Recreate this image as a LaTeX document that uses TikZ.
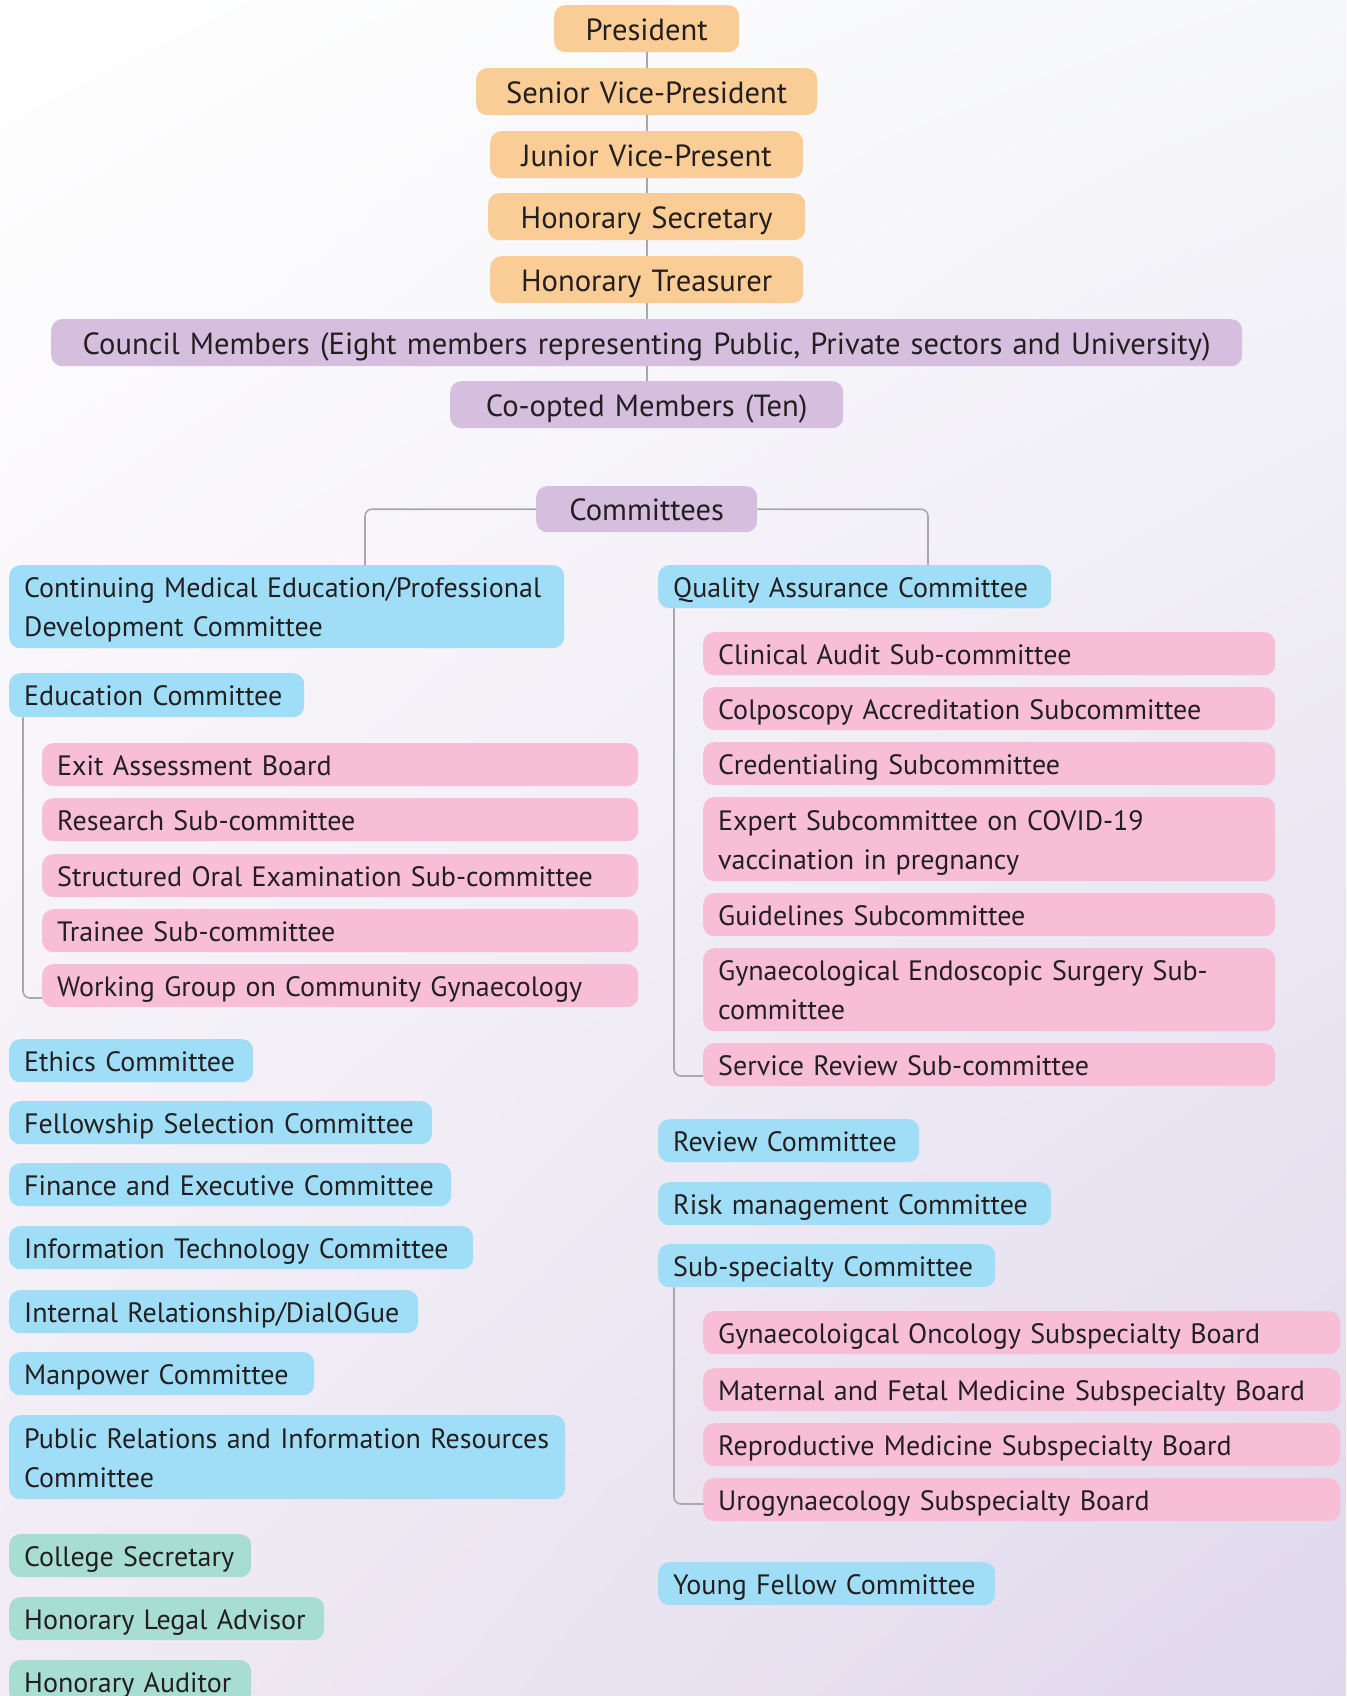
\documentclass[tikz,border=0pt]{standalone}
\usepackage{fontspec}
\setmainfont{PT Sans}
\usetikzlibrary{calc,shadings}
\definecolor{txt}{HTML}{231F20}
\definecolor{corange}{HTML}{FBCD96}
\definecolor{cpurple}{HTML}{D6BFDE}
\definecolor{cblue}{HTML}{A0DEF8}
\definecolor{cpink}{HTML}{F7BED6}
\definecolor{cgreen}{HTML}{A8DDD2}
\definecolor{cline}{HTML}{A8A8AC}
\definecolor{bgA}{HTML}{FFFFFF}
\definecolor{bgB}{HTML}{F6F7FA}
\definecolor{bgC}{HTML}{F1EBF4}
\definecolor{bgD}{HTML}{E0D8EC}
\newcommand\lowstrut{\rule[-7pt]{0pt}{35pt}}
\newcommand\topstrut{\rule[-7pt]{0pt}{37pt}}
\begin{document}
\begin{tikzpicture}[x=1pt,y=-1pt,
  bx/.style={rounded corners=11pt, inner xsep=15pt, inner ysep=0pt, anchor=north west,
    minimum height=43pt, text=txt},
  lb/.style={bx, align=left, font=\fontsize{28}{39}\selectfont,
    execute at begin node=\lowstrut, execute at end node=\lowstrut},
  cb/.style={bx, align=center, minimum height=47pt, font=\fontsize{30.6}{40}\selectfont,
    execute at begin node=\topstrut, execute at end node=\topstrut},
  conn/.style={draw=cline, line width=1.6pt, rounded corners=7pt}]
\useasboundingbox (0,0) rectangle (1346,1696);
\shade[upper left=bgA, upper right=bgB, lower left=bgC, lower right=bgD] (0,0) rectangle (1346,1696);

% top chain
\node[cb, fill=corange, text width=155pt] (pres) at (554,5) {President};
\node[cb, fill=corange, text width=311pt] (svp) at (476,68) {Senior Vice-President};
\node[cb, fill=corange, text width=283pt] (jvp) at (490,131) {Junior Vice-Present};
\node[cb, fill=corange, text width=287pt] (hsec) at (488,193) {Honorary Secretary};
\node[cb, fill=corange, text width=283pt] (htr) at (490,256) {Honorary Treasurer};
\node[cb, fill=cpurple, text width=1161pt] (council) at (51,319) {Council Members (Eight members representing Public, Private sectors and University)};
\node[cb, fill=cpurple, text width=363pt] (coopt) at (450,381) {Co-opted Members (Ten)};
\node[cb, fill=cpurple, text width=191pt, minimum height=46pt] (comm) at (536,486) {Committees};

\draw[conn] (pres.south) -- (svp.north);
\draw[conn] (svp.south) -- (jvp.north);
\draw[conn] (jvp.south) -- (hsec.north);
\draw[conn] (hsec.south) -- (htr.north);
\draw[conn] (htr.south) -- (council.north);
\draw[conn] (council.south) -- (coopt.north);

% left column
\node[lb, fill=cblue, text width=525pt, minimum height=83pt] (cme) at (9,565) {Continuing Medical Education/Professional\\Development Committee};
\node[lb, fill=cblue, text width=265pt, minimum height=44pt] (edu) at (9,673) {Education Committee};
\node[lb, fill=cpink, text width=566pt] (exit) at (42,743) {Exit Assessment Board};
\node[lb, fill=cpink, text width=566pt] (research) at (42,798) {Research Sub-committee};
\node[lb, fill=cpink, text width=566pt] (soe) at (42,854) {Structured Oral Examination Sub-committee};
\node[lb, fill=cpink, text width=566pt] (trainee) at (42,909) {Trainee Sub-committee};
\node[lb, fill=cpink, text width=566pt] (wg) at (42,964) {Working Group on Community Gynaecology};
\node[lb, fill=cblue, text width=214pt] (ethics) at (9,1039) {Ethics Committee};
\node[lb, fill=cblue, text width=393pt] (fellow) at (9,1101) {Fellowship Selection Committee};
\node[lb, fill=cblue, text width=412pt] (finance) at (9,1163) {Finance and Executive Committee};
\node[lb, fill=cblue, text width=434pt] (itc) at (9,1226) {Information Technology Committee};
\node[lb, fill=cblue, text width=379pt] (internal) at (9,1290) {Internal Relationship/DialOGue};
\node[lb, fill=cblue, text width=275pt] (manpower) at (9,1352) {Manpower Committee};
\node[lb, fill=cblue, text width=526pt, minimum height=84pt] (pr) at (9,1415) {Public Relations and Information Resources\\Committee};
\node[lb, fill=cgreen, text width=212pt] (colsec) at (9,1534) {College Secretary};
\node[lb, fill=cgreen, text width=285pt] (legal) at (9,1597) {Honorary Legal Advisor};
\node[lb, fill=cgreen, text width=212pt] (auditor) at (9,1660) {Honorary Auditor};

% right column
\node[lb, fill=cblue, text width=363pt] (qa) at (658,565) {Quality Assurance Committee};
\node[lb, fill=cpink, text width=542pt] (clin) at (703,632) {Clinical Audit Sub-committee};
\node[lb, fill=cpink, text width=542pt] (colpo) at (703,687) {Colposcopy Accreditation Subcommittee};
\node[lb, fill=cpink, text width=542pt] (cred) at (703,742) {Credentialing Subcommittee};
\node[lb, fill=cpink, text width=542pt, minimum height=84pt] (expert) at (703,797) {Expert Subcommittee on COVID-19\\vaccination in pregnancy};
\node[lb, fill=cpink, text width=542pt] (guide) at (703,893) {Guidelines Subcommittee};
\node[lb, fill=cpink, text width=542pt, minimum height=83pt] (gyendo) at (703,948) {Gynaecological Endoscopic Surgery Sub-\\committee};
\node[lb, fill=cpink, text width=542pt] (service) at (703,1043) {Service Review Sub-committee};
\node[lb, fill=cblue, text width=231pt] (review) at (658,1119) {Review Committee};
\node[lb, fill=cblue, text width=363pt] (risk) at (658,1182) {Risk management Committee};
\node[lb, fill=cblue, text width=307pt] (subspec) at (658,1244) {Sub-specialty Committee};
\node[lb, fill=cpink, text width=607pt] (gyonc) at (703,1311) {Gynaecoloigcal Oncology Subspecialty Board};
\node[lb, fill=cpink, text width=607pt] (mfm) at (703,1368) {Maternal and Fetal Medicine Subspecialty Board};
\node[lb, fill=cpink, text width=607pt] (repro) at (703,1423) {Reproductive Medicine Subspecialty Board};
\node[lb, fill=cpink, text width=607pt] (uro) at (703,1478) {Urogynaecology Subspecialty Board};
\node[lb, fill=cblue, text width=307pt] (young) at (658,1562) {Young Fellow Committee};

% committee connectors
\draw[conn] (comm.west) -| ([xshift=356pt]cme.north west);
\draw[conn] (comm.east) -| ([xshift=270pt]qa.north west);
% brackets
\draw[conn] ([xshift=14pt]edu.south west) |- ([yshift=-34pt]wg.north west);
\draw[conn] ([xshift=16pt]qa.south west) |- ([yshift=-33pt]service.north west);
\draw[conn] ([xshift=16pt]subspec.south west) |- ([yshift=-26pt]uro.north west);
\end{tikzpicture}
\end{document}
